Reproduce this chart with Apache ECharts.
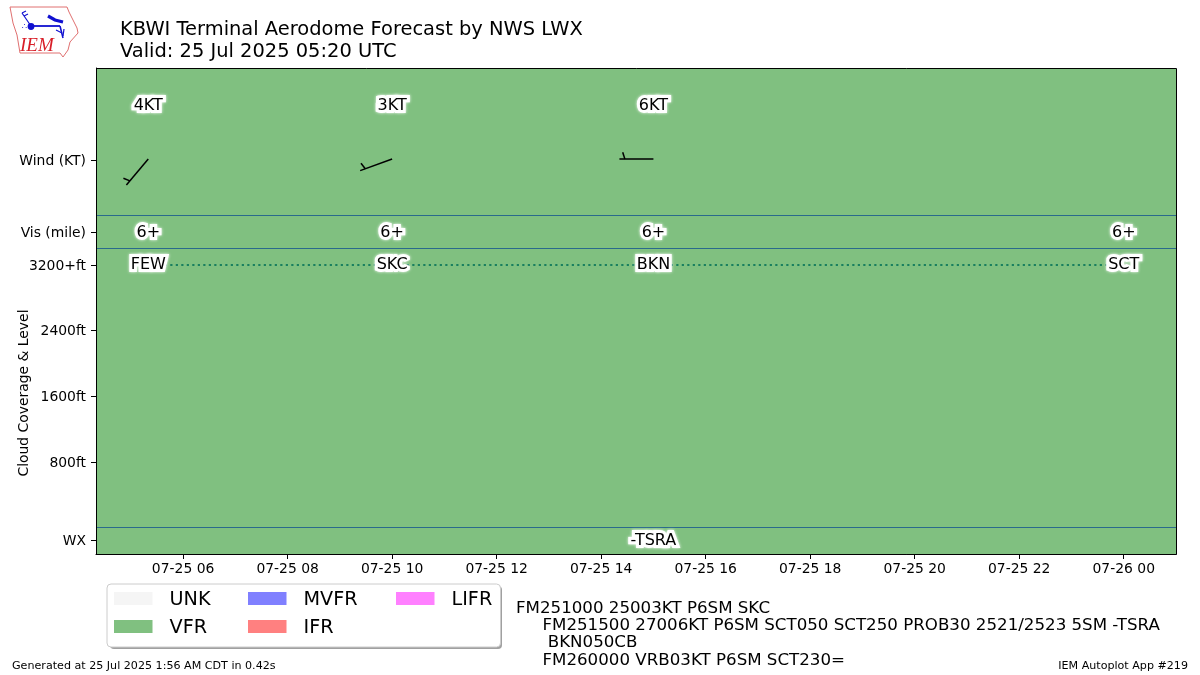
<!DOCTYPE html>
<html>
<head>
<meta charset="utf-8">
<title>KBWI TAF</title>
<script src="https://cdn.jsdelivr.net/npm/echarts@6/dist/echarts.min.js"></script>
<style>
  html, body { margin: 0; padding: 0; background: #fff; }
  #chart { width: 1200px; height: 675px; }
</style>
</head>
<body>
<div id="chart"></div>
<script>
const FONT = '"DejaVu Sans"';

const axisStart = '2025-07-25T04:20:00Z';
const axisEnd = '2025-07-26T01:00:00Z';
const yMin = -320;
const yMax = 5600;

const tickTimes = [
  '2025-07-25T06:00:00Z', '2025-07-25T08:00:00Z', '2025-07-25T10:00:00Z',
  '2025-07-25T12:00:00Z', '2025-07-25T14:00:00Z', '2025-07-25T16:00:00Z',
  '2025-07-25T18:00:00Z', '2025-07-25T20:00:00Z', '2025-07-25T22:00:00Z',
  '2025-07-26T00:00:00Z'
];
const yTickValues = [-150, 800, 1600, 2400, 3200, 3600, 4480];
const yTickLabels = ['WX', '800ft', '1600ft', '2400ft', '3200+ft', 'Vis (mile)', 'Wind (KT)'];
const separators = [4, 3402, 3803];

const forecastTimes = ['2025-07-25T05:20:00Z', '2025-07-25T10:00:00Z', '2025-07-25T15:00:00Z', '2025-07-26T00:00:00Z'];
const visLabels = ['6+', '6+', '6+', '6+'];
const cloudLabels = ['FEW', 'SKC', 'BKN', 'SCT'];
const cloudLevels = [3200, 3200, 3200, 3200];

const windTimes = ['2025-07-25T05:20:00Z', '2025-07-25T10:00:00Z', '2025-07-25T15:00:00Z'];
const windSpeeds = ['4KT', '3KT', '6KT'];
const windDirs = [220, 250, 270];

const wxTimes = ['2025-07-25T15:00:00Z'];
const wxLabels = ['-TSRA'];

const flightCats = ['UNK', 'VFR', 'MVFR', 'IFR', 'LIFR'];
const flightColors = ['#f5f5f5', '#80c080', '#8080ff', '#ff8080', '#ff80ff'];
const flightSpans = { VFR: [[axisStart, axisEnd]] };

const tafLines = [
  'FM251000 25003KT P6SM SKC',
  '     FM251500 27006KT P6SM SCT050 SCT250 PROB30 2521/2523 5SM -TSRA',
  '      BKN050CB',
  '     FM260000 VRB03KT P6SM SCT230='
];

const ms = t => Date.parse(t);
const pad = n => String(n).padStart(2, '0');
const fmtTick = v => {
  const d = new Date(v);
  return `${pad(d.getUTCMonth() + 1)}-${pad(d.getUTCDate())} ${pad(d.getUTCHours())}`;
};

// label-only series, the text sits on a white halo
const textSeries = (name, times, level, labels) => ({
  type: 'scatter',
  name,
  symbolSize: 0,
  silent: true,
  z: 6,
  itemStyle: { opacity: 1 },
  data: times.map((t, i) => [ms(t), level, labels[i]]),
  label: {
    show: true,
    position: 'inside',
    offset: [0, 1],
    formatter: p => p.value[2],
    fontFamily: FONT,
    fontSize: 16,
    color: '#000',
    opacity: 1,
    textBorderColor: '#fff',
    textBorderWidth: 6,
    textShadowColor: '#fff',
    textShadowBlur: 3
  }
});

const renderSpan = color => (params, api) => {
  const a = api.coord([api.value(0), yMax]);
  const b = api.coord([api.value(1), yMin]);
  return { type: 'rect', shape: { x: a[0], y: a[1], width: b[0] - a[0], height: b[1] - a[1] }, style: { fill: color } };
};

// wind barb: staff points to where the wind comes from, one half barb near the tip
const renderBarb = (params, api) => {
  const base = api.coord([api.value(0), api.value(1)]);
  const rad = api.value(2) * Math.PI / 180;
  const dx = Math.sin(rad), dy = -Math.cos(rad);
  const len = 34, barbLen = 7, at = 0.84;
  const turn = 72 * Math.PI / 180;
  const bx = dx * Math.cos(turn) - dy * Math.sin(turn);
  const by = dx * Math.sin(turn) + dy * Math.cos(turn);
  const sx = base[0] + dx * len * at, sy = base[1] + dy * len * at;
  const style = { stroke: '#000', lineWidth: 1.5, fill: null };
  return {
    type: 'group',
    children: [
      { type: 'line', shape: { x1: base[0], y1: base[1], x2: base[0] + dx * len, y2: base[1] + dy * len }, style },
      { type: 'line', shape: { x1: sx, y1: sy, x2: sx + bx * barbLen, y2: sy + by * barbLen }, style }
    ]
  };
};

const spanSeries = flightCats.map((cat, i) => ({
  type: 'custom',
  name: cat,
  z: 1,
  silent: true,
  clip: true,
  itemStyle: { color: flightColors[i] },
  encode: { x: [0, 1] },
  renderItem: renderSpan(flightColors[i]),
  data: (flightSpans[cat] || []).map(s => [ms(s[0]), ms(s[1])])
}));

const legendAt = (left, data) => ({
  left, top: 591, orient: 'vertical', selectedMode: false, z: 21,
  icon: 'rect', itemWidth: 38.5, itemHeight: 13, itemGap: 9, padding: 0,
  data,
  formatter: name => `{t|${name}}`,
  textStyle: {
    rich: { t: { fontFamily: FONT, fontSize: 19.2, color: '#000', padding: [4, 0, 0, 12] } }
  }
});

// small IEM logo, outline of Iowa with a station plot
const logoLines = [
  { color: '#e07070', width: 1, pts: [[10, 7], [67, 7], [69, 12], [77, 28], [78, 33], [70, 42], [68, 50], [63, 57], [60, 53], [20, 53], [17, 35], [13, 23], [10, 7]] },
  { color: '#1010d0', width: 1.8, pts: [[31, 26], [60, 26]] },
  { color: '#1010d0', width: 1.2, pts: [[31, 26], [22, 13]] },
  { color: '#1010d0', width: 1.2, pts: [[22, 13], [26, 11]] },
  { color: '#1010d0', width: 1.2, pts: [[24, 16], [28, 14]] },
  { color: '#1010d0', width: 3.2, pts: [[48, 16], [55, 20], [63, 22]] },
  { color: '#1010d0', width: 1.5, pts: [[60, 26], [63, 38]] },
  { color: '#1010d0', width: 1.2, pts: [[56, 30], [62, 33]] },
  { color: '#1010d0', width: 1.2, pts: [[64, 29], [63, 36]] }
];

const logoGraphics = logoLines.map(l => ({
  type: 'polyline',
  shape: { points: l.pts },
  style: { stroke: l.color, lineWidth: l.width, fill: null }
}));
logoGraphics.push(
  { type: 'circle', shape: { cx: 31, cy: 26.5, r: 3.4 }, style: { fill: '#1010d0' } },
  { type: 'text', x: 27, y: 23, style: { text: '∴', fill: '#1010d0', font: '8px "DejaVu Sans"', textAlign: 'right' } },
  { type: 'text', x: 20, y: 36, style: { text: 'IEM', fill: '#d81e28', font: 'italic 19px "Liberation Serif"' } }
);

const chart = echarts.init(document.getElementById('chart'), null, { renderer: 'canvas' });

chart.setOption({
  animation: false,
  backgroundColor: '#fff',
  textStyle: { fontFamily: FONT },
  title: {
    left: 120,
    top: 19,
    padding: 0,
    text: 'KBWI Terminal Aerodome Forecast by NWS LWX\nValid: 25 Jul 2025 05:20 UTC',
    textStyle: { fontFamily: FONT, fontSize: 19.45, fontWeight: 'normal', color: '#000', lineHeight: 22 }
  },
  legend: [
    legendAt(114, ['UNK', 'VFR']),
    legendAt(248, ['MVFR', 'IFR']),
    legendAt(396, ['LIFR'])
  ],
  grid: { left: 96, top: 68, width: 1080, height: 486 },
  xAxis: {
    type: 'value',
    min: ms(axisStart),
    max: ms(axisEnd),
    z: 4,
    axisLine: { onZero: false, lineStyle: { color: '#000', width: 1 } },
    axisTick: { show: true, length: 5, customValues: tickTimes.map(ms), lineStyle: { color: '#000' } },
    axisLabel: {
      customValues: tickTimes.map(ms),
      formatter: fmtTick,
      color: '#000',
      fontFamily: FONT,
      fontSize: 13.9,
      margin: 8
    },
    splitLine: { show: false }
  },
  yAxis: {
    type: 'value',
    min: yMin,
    max: yMax,
    z: 4,
    axisLine: { show: true, onZero: false, lineStyle: { color: '#000', width: 1 } },
    axisTick: { show: true, length: 5, customValues: yTickValues, lineStyle: { color: '#000' } },
    axisLabel: {
      customValues: yTickValues,
      formatter: v => yTickLabels[yTickValues.indexOf(v)],
      color: '#000',
      fontFamily: FONT,
      fontSize: 13.9,
      margin: 10,
      verticalAlign: 'top',
      lineHeight: 2
    },
    splitLine: { show: false }
  },
  series: [
    ...spanSeries,
    {
      type: 'line',
      name: 'cloud',
      z: 3,
      silent: true,
      showSymbol: false,
      lineStyle: { color: '#1a7f5f', width: 2, type: [2.2, 3.3] },
      data: forecastTimes.map((t, i) => [ms(t), cloudLevels[i]]),
      markLine: {
        silent: true,
        symbol: 'none',
        label: { show: false },
        lineStyle: { color: '#2a6a8c', width: 1, type: 'solid' },
        data: separators.map(v => ({ yAxis: v }))
      }
    },
    {
      type: 'custom',
      name: 'wind',
      z: 5,
      silent: true,
      renderItem: renderBarb,
      data: windTimes.map((t, i) => [ms(t), 4492, windDirs[i]])
    },
    textSeries('windText', windTimes, 5150, windSpeeds),
    textSeries('visText', forecastTimes, 3610, visLabels),
    textSeries('cloudText', forecastTimes, 3220, cloudLabels),
    textSeries('wxText', wxTimes, -145, wxLabels)
  ],
  graphic: [
    // frame on top of the coloured spans
    { type: 'rect', z: 10, silent: true, shape: { x: 96.5, y: 68.5, width: 1080, height: 486 }, style: { fill: null, stroke: '#000', lineWidth: 1 } },
    // legend box
    { type: 'rect', z: 9, silent: true, shape: { x: 110, y: 586, width: 392, height: 63, r: 4 }, style: { fill: '#a0a0a0' } },
    { type: 'rect', z: 10, silent: true, shape: { x: 107, y: 584, width: 393.5, height: 63, r: 4 }, style: { fill: '#fff', stroke: '#ccc', lineWidth: 1 } },
    { type: 'text', z: 10, silent: true, x: 24, y: 393, rotation: Math.PI / 2, style: { text: 'Cloud Coverage & Level', fill: '#000', font: '13.9px "DejaVu Sans"', textAlign: 'center', textVerticalAlign: 'middle' } },
    { type: 'text', z: 10, silent: true, x: 516, y: 599.5, style: { text: tafLines.join('\n'), fill: '#000', font: '16.67px "DejaVu Sans"', lineHeight: 17.4 } },
    { type: 'text', z: 10, silent: true, x: 12, y: 661, style: { text: 'Generated at 25 Jul 2025 1:56 AM CDT in 0.42s', fill: '#000', font: '11.12px "DejaVu Sans"' } },
    { type: 'text', z: 10, silent: true, x: 1188, y: 661, style: { text: 'IEM Autoplot App #219', fill: '#000', font: '11.12px "DejaVu Sans"', textAlign: 'right' } },
    { type: 'group', z: 10, silent: true, children: logoGraphics }
  ]
});
</script>
</body>
</html>
